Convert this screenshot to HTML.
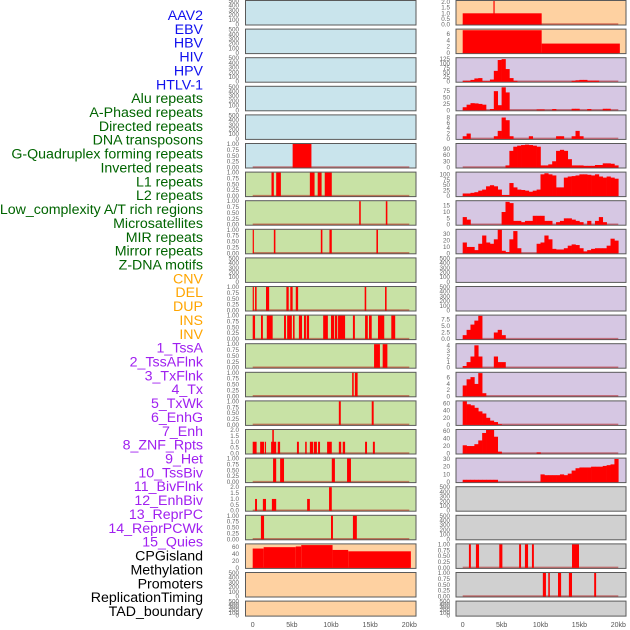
<!DOCTYPE html>
<html><head><meta charset="utf-8"><style>
body{margin:0;background:#fff;width:630px;height:630px;overflow:hidden}
svg{display:block}
.lab{font-family:"Liberation Sans",sans-serif;font-size:14.2px}
.tk{font-family:"Liberation Sans",sans-serif;font-size:6.3px;fill:#666}
.xt{font-family:"Liberation Sans",sans-serif;font-size:7px;fill:#555}
</style></head><body>
<svg id="chart" width="630" height="630"></svg>
<script>
const trackLabels=["AAV2","EBV","HBV","HIV","HPV","HTLV-1","Alu repeats","A-Phased repeats","Directed repeats","DNA transposons","G-Quadruplex forming repeats","Inverted repeats","L1 repeats","L2 repeats","Low_complexity A/T rich regions","Microsatellites","MIR repeats","Mirror repeats","Z-DNA motifs","CNV","DEL","DUP","INS","INV","1_TssA","2_TssAFlnk","3_TxFlnk","4_Tx","5_TxWk","6_EnhG","7_Enh","8_ZNF_Rpts","9_Het","10_TssBiv","11_BivFlnk","12_EnhBiv","13_ReprPC","14_ReprPCWk","15_Quies","CPGisland","Methylation","Promoters","ReplicationTiming","TAD_boundary"];
const labelColorCounts=[6,13,5,15,5];
const labelColors=["#1010ee","#006400","#ffa500","#a020f0","#000000"];
const xTickValues=[0,5,10,15,20];
const xTickLabels=["0","5kb","10kb","15kb","20kb"];
const E=["0","100","200","300","400","500"];
const T1=["0.00","0.25","0.50","0.75","1.00"];
const T2=["0.0","0.5","1.0","1.5","2.0"];
const leftBg=["#c9e4ec","#c9e4ec","#c9e4ec","#c9e4ec","#c9e4ec","#c9e4ec","#c8e2a5","#c8e2a5","#c8e2a5","#c8e2a5","#c8e2a5","#c8e2a5","#c8e2a5","#c8e2a5","#c8e2a5","#c8e2a5","#c8e2a5","#c8e2a5","#c8e2a5","#fed1a1","#fed1a1","#fed1a1"];
const rightBg=["#fed1a1","#fed1a1","#d6c7e3","#d6c7e3","#d6c7e3","#d6c7e3","#d6c7e3","#d6c7e3","#d6c7e3","#d6c7e3","#d6c7e3","#d6c7e3","#d6c7e3","#d6c7e3","#d6c7e3","#d6c7e3","#d6c7e3","#d0d0d0","#d0d0d0","#d0d0d0","#d0d0d0","#d0d0d0"];
const leftTicks=[E,E,E,E,E,T1,T1,T1,T1,E,T1,T1,T1,T1,T1,T2,T1,T2,T1,["0","20","40","60"],E,E];
const leftYmax=[500,500,500,500,500,1,1,1,1,500,1,1,1,1,1,2,1,2,1,68,500,500];
const leftSegs=[[],[],[],[],[],
[[5.1,7.5,1]],
[[2.4,2.7,1],[3.0,3.6,1],[7.3,7.9,1],[8.3,8.8,1],[9.2,10.1,1]],
[[13.6,13.8,1],[17.0,17.2,1]],
[[0,0.15,1],[2.7,2.9,1],[8.7,8.9,1],[9.8,10.1,1],[15.8,16.0,1]],
[],
[[0,0.15,1],[0.3,0.5,1],[1.7,2.1,1],[4.3,4.6,1],[4.8,5.1,1],[5.5,5.8,1],[14.3,14.5,1],[16.9,17.1,1]],
[[0,0.3,1],[1.06,1.3,1],[1.8,2.55,1],[4.0,4.25,1],[4.4,5.0,1],[5.15,5.35,1],[5.9,6.3,1],[6.55,6.8,1],[6.9,7.2,1],[9.0,9.6,1],[10.0,10.4,1],[10.5,10.8,1],[10.9,11.8,1],[12.8,13.05,1],[14.35,14.7,1],[14.85,15.2,1],[16.0,16.8,1],[17.7,18.2,1]],
[[15.5,16.25,1],[16.6,17.2,1]],
[[12.7,12.9,1],[13.05,13.4,1]],
[[11.0,11.25,1],[15.2,15.45,1]],
[[0,0.5,1],[0.95,1.45,1],[1.55,1.7,1],[2.35,3.0,1],[2.5,2.7,2],[3.2,3.5,1],[5.65,5.9,1],[6.7,6.9,1],[7.3,7.7,1],[7.8,8.2,1],[8.35,8.6,1],[9.5,10.1,1],[11.0,11.3,1],[11.5,11.8,1],[14.35,14.6,1],[15.35,15.6,1]],
[[2.6,3.0,1],[3.5,4.0,1],[10.1,10.5,1],[12.05,12.55,1]],
[[0.3,0.55,1],[1.3,1.7,1],[2.45,3.0,1],[6.95,7.3,1],[9.75,10.1,2]],
[[1.05,1.45,1],[10.0,10.25,1],[12.8,13.3,1]],
[[0,1.4,56],[1.4,5.5,60],[5.5,6.2,62],[6.2,10.2,66],[10.2,12.2,52],[12.2,20.2,48]],
[],[]];
const rightTicks=[T2,["0","2","4","6"],["0","25","50","75","100","125"],["0","25","50","75"],["0","2","4","6","8"],["0","30","60","90"],["0","25","50","75","100"],["0","5","10","15"],["0","10","20","30"],E,E,["0.0","2.5","5.0","7.5"],["0","1","2","3","4"],["0","2","4","6"],["0","20","40","60"],["0","20","40","60"],["0","10","20","30"],E,E,T1,T1,E];
const rightYmax=[2.1,7.4,130,92,8.8,113,108,18.5,37,500,500,8.9,4.2,7.6,66,63,30.5,500,500,1,1,500];
const rightSegs=[[[0,10.15,1],[3.95,4.1,2.1]],[[0,10.15,7.2],[10.15,20.2,3]],[],[],[],[],[],[],[],[],[],[],[],[],[],[],[],[],[],
[[0.8,1.05,1],[1.7,2.1,1],[4.7,5.1,1],[7.25,7.5,1],[8.0,8.4,1],[8.9,9.15,1],[14.05,14.95,1]],
[[10.3,10.7,1],[11.0,11.2,1],[12.25,12.65,1],[13.65,14.05,1],[16.9,17.15,1]],[]];
const binWidth=0.5;
const rightBins=[];
rightBins[2]=[5,5,10,18,20,3,3,12,60,120,125,70,20,5,0,0,0,0,0,0,0,0,0,0,0,0,0,0,5,8,10,10,6,6,6,0,0,0,0,0];
rightBins[3]=[12,22,28,27,25,22,0,5,75,20,90,70,0,0,0,0,0,0,0,3,3,0,0,5,0,0,0,0,6,6,0,0,5,0,0,0,6,6,0,0];
rightBins[4]=[1,2,0,0,0,0,0,0,1,3,8,7,1,0,0,0,0,1,0,0,0,0,0,0,1,1,0,0,1,3,1,0,0,0,0,0,0,0,0,0];
rightBins[5]=[0,0,0,0,0,0,0,0,0,0,0,10,80,100,105,108,110,108,105,100,10,10,15,30,80,85,80,40,10,10,10,8,8,8,12,12,20,20,18,10];
rightBins[6]=[12,12,15,18,25,30,45,50,45,30,5,5,60,40,30,28,25,20,25,30,100,105,100,95,40,40,85,90,92,95,100,100,98,95,100,90,85,90,85,80];
rightBins[7]=[6,4,0,0,0,0,0,0,0,0,10,18,17,3,3,2,3,3,7,7,7,3,3,0,2,3,5,5,4,3,2,0,3,0,3,6,2,0,0,0];
rightBins[8]=[17,10,10,5,15,28,17,15,22,37,4,2,22,35,8,0,0,0,0,15,17,28,22,7,6,6,8,12,14,13,8,3,5,7,8,8,8,12,23,20];
rightBins[11]=[1.5,3.5,5.5,7,8.8,0,0,0,2.5,3.5,1.5,0,0,0,0,0,0,0,0,0,0,0,0,0,0,0,0,0,0,0,0,0,0,0,0,0,0,0,0,0];
rightBins[12]=[0.3,1,2,4,2,0,0,0,2,1,1,0,0,0,0,0,0,0,0,0,0,0,0,0,0,0,0,0,0,0,0,0,0,0,0,0,0,0,0,0];
rightBins[13]=[3.5,5.5,6.2,4,7.5,1,0,0,0,0,0,0,0,0,0,0,0,0,0,0,0,0,0,0,0,0,0,0,0,0,0,0,0,0,0,0,0,0,0,0];
rightBins[14]=[66,58,55,48,38,32,20,12,8,2,0,0,0,0,0,0,0,0,0,0,0,0,0,0,0,0,0,0,0,0,0,0,0,0,0,0,0,0,0,0];
rightBins[15]=[22,20,20,25,35,55,63,63,45,5,0,0,0,0,0,0,0,0,0,3,0,0,0,0,0,0,0,0,0,0,0,0,0,0,0,0,0,0,0,0];
rightBins[16]=[3,3,3,3,3,3,3,3,3,0,0,0,0,0,0,0,0,0,0,0,10,9,9,9,9,10,9,11,15,18,19,19,19,20,20,20,21,22,23,30];

const NS="http://www.w3.org/2000/svg";
const svg=document.getElementById('chart');
function mk(t,a,p){const e=document.createElementNS(NS,t);for(const k in a)e.setAttribute(k,a[k]);(p||svg).appendChild(e);return e;}
const cols=[{x0:245.5,x1:416,zero:252.7,scale:7.83,tx:239},{x0:456,x1:626,zero:462.7,scale:7.78,tx:450}];
function rowTop(i){return 0.5+28.6*i;}
function rowH(i){return i===21?15:24.5;}

let li=0;
labelColorCounts.forEach((n,g)=>{for(let k=0;k<n;k++){
  const t=mk('text',{x:203,y:15+13.86*li+5,'text-anchor':'end',fill:labelColors[g],class:'lab'});
  
  
  t.textContent=trackLabels[li];li++;}});

function panel(c,i,bg,ticks,ymax,segs,bins){
  const C=cols[c],top=rowTop(i),h=rowH(i);
  const g=mk('g',{});
  
  
  mk('rect',{x:C.x0,y:top,width:C.x1-C.x0,height:h,fill:bg,stroke:'#5a5a5a','stroke-width':1},g);
  const X=kb=>C.zero+kb*C.scale;
  const Y=v=>top+h-0.5-Math.min(v,ymax)/ymax*(h-1);
  ticks.forEach(s=>{const v=parseFloat(s);
    const t=mk('text',{x:C.tx,y:Y(v)+2,'text-anchor':'end',class:'tk'},g);
    
    
    t.textContent=s;});
  const isEmpty=ticks===E;
  if(!isEmpty) mk('line',{x1:X(0),x2:X(20),y1:Y(0)-0.5,y2:Y(0)-0.5,stroke:'rgba(170,0,0,0.45)','stroke-width':1.5},g);
  (segs||[]).forEach(s=>{const r=mk('rect',{x:X(s[0]),y:Y(s[2]),width:Math.max(1.2,X(s[1])-X(s[0])),height:Y(0)-Y(s[2]),fill:'#ff0000'},g);
    
    });
  if(bins){bins.forEach((v,k)=>{if(v<=0)return;
    const r=mk('rect',{x:X(k*binWidth),y:Y(v),width:X((k+1)*binWidth)-X(k*binWidth)+0.3,height:Y(0)-Y(v),fill:'#ff0000'},g);
    
    });}
}
for(let i=0;i<22;i++){
  panel(0,i,leftBg[i],leftTicks[i],leftYmax[i],leftSegs[i],null);
  panel(1,i,rightBg[i],rightTicks[i],rightYmax[i],rightSegs[i],rightBins[i]);
}
cols.forEach(C=>{xTickValues.forEach((v,k)=>{
  const t=mk('text',{x:C.zero+v*C.scale,y:627,'text-anchor':'middle',class:'xt'});
  
  
  t.textContent=xTickLabels[k];});});
</script>
</body></html>
